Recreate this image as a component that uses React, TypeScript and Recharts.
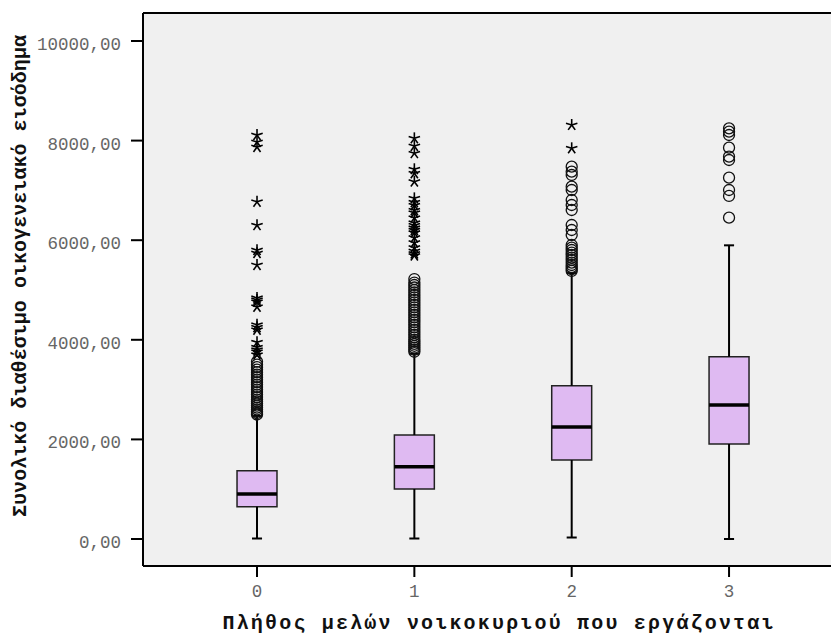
import React from "react";
import {
  ComposedChart,
  XAxis,
  YAxis,
  CartesianGrid,
  Scatter,
  ReferenceArea,
  ReferenceLine,
} from "recharts";

// ---- data ----
const categories = [0, 1, 2, 3];
const q1 = [649, 1004, 1586, 1908];
const medians = [904, 1452, 2249, 2691];
const q3 = [1371, 2088, 3079, 3661];
const whiskerLow = [10, 10, 30, 0];
const whiskerHigh = [2470, 3720, 5340, 5897];

const outliers0 = [
  2500, 2530, 2560, 2600, 2640, 2680, 2720, 2760, 2800, 2850, 2900, 2950, 3000,
  3050, 3100, 3150, 3200, 3250, 3300, 3350, 3400, 3450, 3500, 3560,
];
const extremes0 = [
  3700, 3760, 3800, 3850, 3950, 4200, 4250, 4300, 4660, 4760, 4800, 4840, 5500,
  5740, 5800, 6300, 6770, 7870, 7970, 8110,
];
const outliers1 = [
  3760, 3800, 3840, 3880, 3920, 3960, 4000, 4050, 4100, 4150, 4200, 4250, 4300,
  4350, 4400, 4450, 4500, 4550, 4600, 4650, 4700, 4750, 4800, 4850, 4900, 4950,
  5000, 5050, 5100, 5150, 5220,
];
const extremes1 = [
  5690, 5730, 5780, 5850, 5950, 6050, 6150, 6200, 6250, 6300, 6350, 6450, 6550,
  6600, 6700, 6760, 6840, 7175, 7343, 7424, 7745, 7890, 8045,
];
const outliers2 = [
  5382, 5420, 5460, 5502, 5550, 5602, 5650, 5703, 5750, 5803, 5850, 5904, 6104,
  6205, 6305, 6606, 6707, 6807, 7008, 7075, 7309, 7376, 7476,
];
const extremes2 = [7845, 8313];
const outliers3 = [6452, 6888, 7008, 7256, 7610, 7677, 7858, 8112, 8179, 8246];
const extremes3: number[] = [];

const yTicks = [0, 2000, 4000, 6000, 8000, 10000];
const xTicks = [0, 1, 2, 3];
const yTitle = "Συνολικό διαθέσιμο οικογενειακό εισόδημα";
const xTitle = "Πλήθος μελών νοικοκυριού που εργάζονται";

const outlierGroups = [outliers0, outliers1, outliers2, outliers3];
const extremeGroups = [extremes0, extremes1, extremes2, extremes3];

const circleData = outlierGroups.flatMap((g, i) =>
  g.map((v) => ({ x: categories[i], y: v }))
);
const starData = extremeGroups.flatMap((g, i) =>
  g.map((v) => ({ x: categories[i], y: v }))
);

const BOX_HALF = 0.127;
const CAP_HALF = 0.032;
const FONT = "'Liberation Mono', 'Courier New', monospace";

const fmt = (v: number) => v.toFixed(2).replace(".", ",");

const CircleShape = (p: any) => (
  <circle cx={p.cx} cy={p.cy} r={5.5} fill="none" stroke="#111" strokeWidth={1.3} />
);

const StarShape = (p: any) => {
  const r = 6;
  const lines = [0, 1, 2, 3, 4].map((k) => {
    const a = ((-90 + k * 72) * Math.PI) / 180;
    return (
      <line
        key={k}
        x1={p.cx}
        y1={p.cy}
        x2={p.cx + r * Math.cos(a)}
        y2={p.cy + r * Math.sin(a)}
        stroke="#000"
        strokeWidth={1.6}
      />
    );
  });
  return <g>{lines}</g>;
};

const YTick = (p: any) => (
  <text
    x={p.x}
    y={p.y}
    dy={4}
    textAnchor="end"
    dominantBaseline="central"
    fontFamily={FONT}
    fontSize={17.5}
    fill="#666"
  >
    {fmt(p.payload.value)}
  </text>
);

const XTick = (p: any) => (
  <text
    x={p.x}
    y={p.y}
    dy={12}
    textAnchor="middle"
    fontFamily={FONT}
    fontSize={17.5}
    fill="#666"
  >
    {String(p.payload.value)}
  </text>
);

const YTitle = () => (
  <text
    x={20}
    y={276}
    transform="rotate(-90 20 276)"
    textAnchor="middle"
    dominantBaseline="central"
    fontFamily={FONT}
    fontWeight="bold"
    fontSize={20}
    fill="#111"
    textLength={482}
    lengthAdjust="spacing"
  >
    {yTitle}
  </text>
);

const XTitle = () => (
  <text
    x={498}
    y={629}
    textAnchor="middle"
    fontFamily={FONT}
    fontWeight="bold"
    fontSize={20}
    fill="#111"
    textLength={551}
    lengthAdjust="spacing"
  >
    {xTitle}
  </text>
);

const Y_MIN = -542;
const Y_MAX = 10562;

export default function App() {
  return (
    <div style={{ position: "absolute", left: 0, top: 0, width: 831, height: 634, background: "#fff" }}>
      <ComposedChart
        width={831}
        height={634}
        margin={{ top: 13, right: 0, bottom: 0, left: 0 }}
      >
        <CartesianGrid fill="#f0f0f0" horizontal={false} vertical={false} />
        <XAxis
          type="number"
          dataKey="x"
          domain={[-0.7246, 3.648]}
          allowDataOverflow
          ticks={xTicks}
          height={68}
          tickSize={11}
          tickMargin={8}
          axisLine={{ stroke: "#000", strokeWidth: 2 }}
          tickLine={{ stroke: "#000", strokeWidth: 2 }}
          tick={<XTick />}
          label={<XTitle />}
        />
        <YAxis
          type="number"
          dataKey="y"
          domain={[Y_MIN, Y_MAX]}
          allowDataOverflow
          ticks={yTicks}
          width={143}
          tickSize={12}
          tickMargin={10}
          axisLine={{ stroke: "#000", strokeWidth: 2 }}
          tickLine={{ stroke: "#000", strokeWidth: 2 }}
          tick={<YTick />}
          label={<YTitle />}
        />
        <ReferenceLine y={Y_MAX} stroke="#000" strokeWidth={2} />
        {categories.map((c, i) => (
          <ReferenceLine
            key={`wl${i}`}
            segment={[
              { x: c, y: whiskerLow[i] },
              { x: c, y: q1[i] },
            ]}
            stroke="#000"
            strokeWidth={2}
          />
        ))}
        {categories.map((c, i) => (
          <ReferenceLine
            key={`wh${i}`}
            segment={[
              { x: c, y: q3[i] },
              { x: c, y: whiskerHigh[i] },
            ]}
            stroke="#000"
            strokeWidth={2}
          />
        ))}
        {categories.map((c, i) => (
          <ReferenceLine
            key={`cl${i}`}
            segment={[
              { x: c - CAP_HALF, y: whiskerLow[i] },
              { x: c + CAP_HALF, y: whiskerLow[i] },
            ]}
            stroke="#000"
            strokeWidth={2}
          />
        ))}
        {categories.map((c, i) => (
          <ReferenceLine
            key={`ch${i}`}
            segment={[
              { x: c - CAP_HALF, y: whiskerHigh[i] },
              { x: c + CAP_HALF, y: whiskerHigh[i] },
            ]}
            stroke="#000"
            strokeWidth={2}
          />
        ))}
        {categories.map((c, i) => (
          <ReferenceArea
            key={`b${i}`}
            x1={c - BOX_HALF}
            x2={c + BOX_HALF}
            y1={q1[i]}
            y2={q3[i]}
            fill="#dfbaf2"
            fillOpacity={1}
            stroke="#222"
            strokeWidth={1.5}
          />
        ))}
        {categories.map((c, i) => (
          <ReferenceLine
            key={`m${i}`}
            segment={[
              { x: c - BOX_HALF, y: medians[i] },
              { x: c + BOX_HALF, y: medians[i] },
            ]}
            stroke="#000"
            strokeWidth={3.5}
          />
        ))}
        <Scatter
          data={circleData}
          dataKey="y"
          shape={CircleShape}
          isAnimationActive={false}
        />
        <Scatter
          data={starData}
          dataKey="y"
          shape={StarShape}
          isAnimationActive={false}
        />
      </ComposedChart>
    </div>
  );
}
